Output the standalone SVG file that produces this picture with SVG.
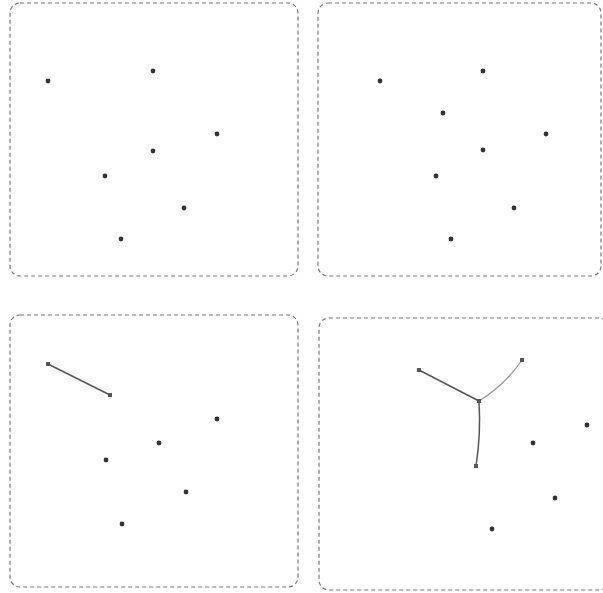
<svg xmlns="http://www.w3.org/2000/svg" width="603" height="593" viewBox="0 0 603 593">
<style>
.panel{fill:#fff;stroke:#777;stroke-width:1.2;stroke-dasharray:4 3}
.dot{fill:#333}
.sq{fill:#555}
.e{fill:none;stroke:#555;stroke-width:1.5}
.el{fill:none;stroke:#999;stroke-width:1.3}
</style>
<rect width="603" height="593" fill="#fff"/>
<g id="panels">
<rect class="panel" x="10" y="3" width="288" height="273" rx="10"/>
<rect class="panel" x="318" y="3" width="283" height="273" rx="10"/>
<rect class="panel" x="10" y="315" width="288" height="272" rx="10"/>
<rect class="panel" x="319" y="318" width="290" height="272" rx="10"/>
</g>
<g id="connectors">
<line class="e" x1="48" y1="364" x2="110" y2="395"/>
<line class="e" x1="419" y1="370" x2="479" y2="401"/>
<path class="el" d="M479,401 Q505,385 522,360"/>
<path class="e" d="M479,401 Q481,435 476,466"/>
</g>
<g id="p1">
<circle class="dot" cx="48" cy="81" r="2.4"/>
<circle class="dot" cx="153" cy="71" r="2.4"/>
<circle class="dot" cx="217" cy="134" r="2.4"/>
<circle class="dot" cx="153" cy="151" r="2.4"/>
<circle class="dot" cx="105" cy="176" r="2.4"/>
<circle class="dot" cx="184" cy="208" r="2.4"/>
<circle class="dot" cx="121" cy="239" r="2.4"/>
</g>
<g id="p2">
<circle class="dot" cx="380" cy="81" r="2.4"/>
<circle class="dot" cx="483" cy="71" r="2.4"/>
<circle class="dot" cx="443" cy="113" r="2.4"/>
<circle class="dot" cx="546" cy="134" r="2.4"/>
<circle class="dot" cx="483" cy="150" r="2.4"/>
<circle class="dot" cx="436" cy="176" r="2.4"/>
<circle class="dot" cx="514" cy="208" r="2.4"/>
<circle class="dot" cx="451" cy="239" r="2.4"/>
</g>
<g id="p3">
<rect class="sq" x="46" y="362" width="4" height="4"/>
<rect class="sq" x="108" y="393" width="4" height="4"/>
<circle class="dot" cx="217" cy="419" r="2.4"/>
<circle class="dot" cx="159" cy="443" r="2.4"/>
<circle class="dot" cx="106" cy="460" r="2.4"/>
<circle class="dot" cx="186" cy="492" r="2.4"/>
<circle class="dot" cx="122" cy="524" r="2.4"/>
</g>
<g id="p4">
<rect class="sq" x="417" y="368" width="4" height="4"/>
<rect class="sq" x="520" y="358" width="4" height="4"/>
<rect class="sq" x="477" y="399" width="4" height="4"/>
<rect class="sq" x="474" y="464" width="4" height="4"/>
<circle class="dot" cx="587" cy="425" r="2.4"/>
<circle class="dot" cx="533" cy="443" r="2.4"/>
<circle class="dot" cx="555" cy="498" r="2.4"/>
<circle class="dot" cx="492" cy="529" r="2.4"/>
</g>
</svg>
